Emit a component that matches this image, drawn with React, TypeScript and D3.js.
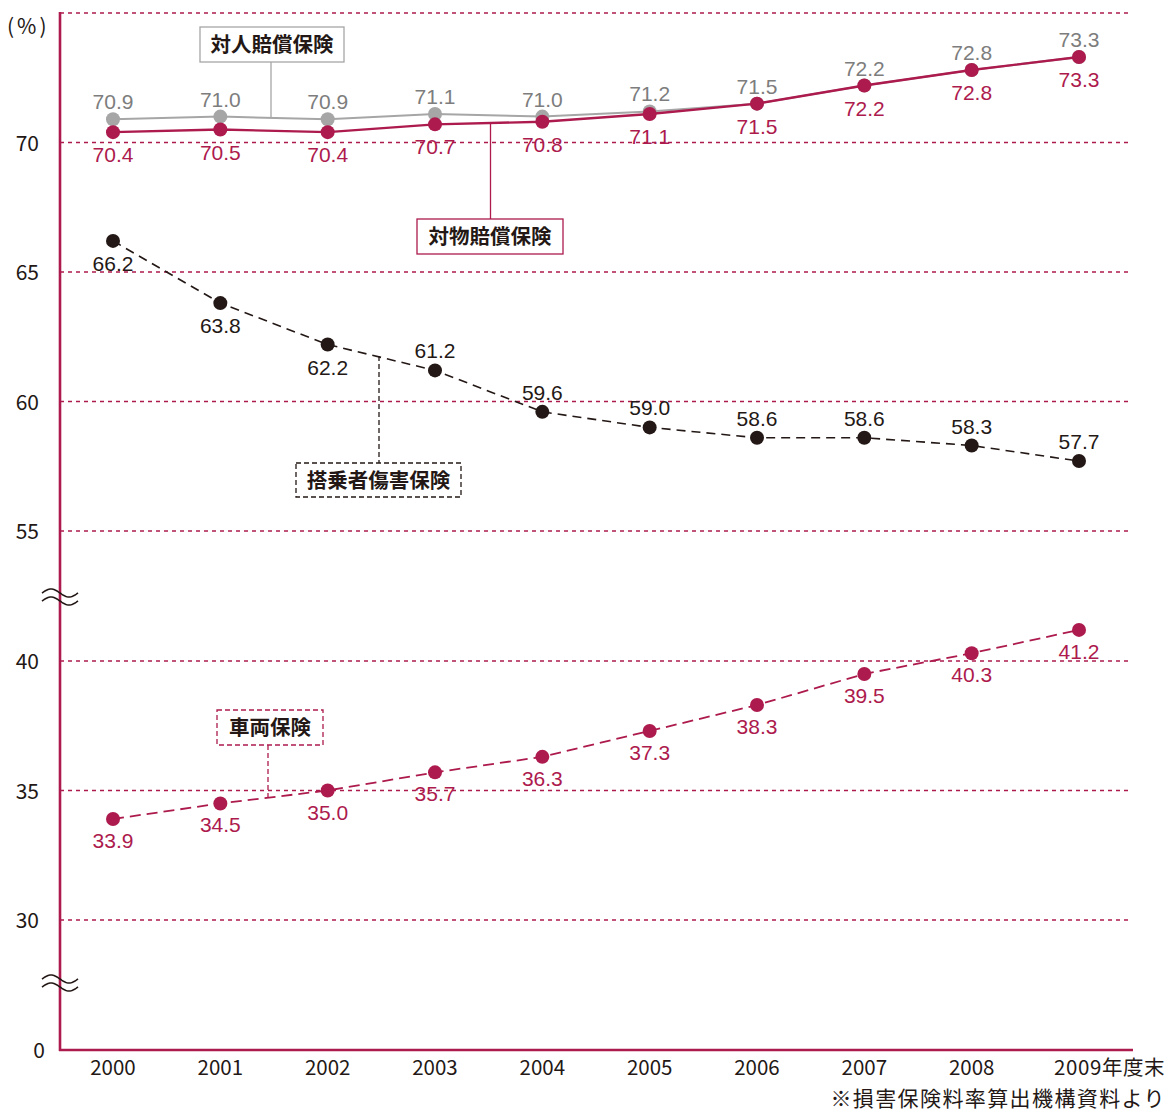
import React from "react";
import * as d3 from "d3";

const years = [2000, 2001, 2002, 2003, 2004, 2005, 2006, 2007, 2008, 2009];
const taijin = [70.9, 71.0, 70.9, 71.1, 71.0, 71.2, 71.5, 72.2, 72.8, 73.3];
const taibutsu = [70.4, 70.5, 70.4, 70.7, 70.8, 71.1, 71.5, 72.2, 72.8, 73.3];
const tojosha = [66.2, 63.8, 62.2, 61.2, 59.6, 59.0, 58.6, 58.6, 58.3, 57.7];
const tojoshaLabelBelow = [true, true, true, false, false, false, false, false, false, false];
const sharyo = [33.9, 34.5, 35.0, 35.7, 36.3, 37.3, 38.3, 39.5, 40.3, 41.2];
const yTicks = [0, 30, 35, 40, 55, 60, 65, 70];
const gridValues = [30, 35, 40, 55, 60, 65, 70, 75];

const CRIMSON = "#ad1a4d";
const GRAY_LINE = "#a6a6a6";
const GRAY_TEXT = "#7d7d7d";
const DARK = "#231815";
const NUM_FONT = "'Liberation Sans', Arial, sans-serif";
const JP_FONT = "'Noto Sans CJK JP', sans-serif";

const x = d3.scaleLinear().domain([2000, 2009]).range([113, 1079]);
// broken axis: three linear segments with the same unit height above 30
const yBase = d3.scaleLinear().domain([0, 30]).range([1050, 920]);
const yLow = d3.scaleLinear().domain([30, 40]).range([920, 661]);
const yHigh = d3.scaleLinear().domain([55, 75]).range([531, 13]);
const y = (v: number) => (v >= 50 ? yHigh(v) : v >= 30 ? yLow(v) : yBase(v));

function linePath(vals: number[]) {
  return d3
    .line<number>()
    .x((_, i) => x(years[i]))
    .y((v) => y(v))(vals) as string;
}

function Series({ vals, color, dash, width }: { vals: number[]; color: string; dash?: string; width: number }) {
  return (
    <g>
      <path d={linePath(vals)} fill="none" stroke={color} strokeWidth={width} strokeDasharray={dash} />
      {vals.map((v, i) => (
        <circle key={i} cx={x(years[i])} cy={y(v)} r={7} fill={color} />
      ))}
    </g>
  );
}

function BreakMark({ cy }: { cy: number }) {
  const wave = (off: number) => {
    const pts: [number, number][] = [];
    for (let t = 0; t <= 36; t += 1) {
      pts.push([42 + t, cy + off - 4 * Math.sin((t / 36) * 2 * Math.PI)]);
    }
    return d3.line()(pts) as string;
  };
  return (
    <g fill="none" stroke={DARK} strokeWidth={1.6}>
      <path d={wave(-4)} />
      <path d={wave(4)} />
    </g>
  );
}

const breakYs = [597, 983];

export default function App() {
  return (
    <svg width={1174} height={1112} style={{ position: "absolute", left: 0, top: 0, background: "#fff" }}>
      {/* grid */}
      {gridValues.map((g) => (
        <line key={g} x1={60} x2={1131} y1={y(g)} y2={y(g)} stroke={CRIMSON} strokeWidth={1.3} strokeDasharray="4,4" />
      ))}
      {/* axes */}
      <line x1={60} x2={60} y1={12} y2={1051} stroke={CRIMSON} strokeWidth={2.6} />
      <line x1={59} x2={1133} y1={1050} y2={1050} stroke={CRIMSON} strokeWidth={2.6} />
      {breakYs.map((b) => (
        <BreakMark key={b} cy={b} />
      ))}
      {/* y tick labels */}
      {yTicks.map((t) => (
        <text key={t} x={t === 0 ? 45 : 39} y={y(t) + 8} textAnchor="end" fontSize={21} fill={DARK} fontFamily={JP_FONT} fontWeight={400}>
          {t}
        </text>
      ))}
      <text x={7} y={34} fontSize={21} fill={DARK} fontFamily={JP_FONT} fontWeight={400} letterSpacing={3}>(%)</text>
      {/* x tick labels */}
      {years.map((yr, i) =>
        i < years.length - 1 ? (
          <text key={yr} x={x(yr)} y={1075} textAnchor="middle" fontSize={20.5} fill={DARK} fontFamily={JP_FONT} fontWeight={400}>
            {yr}
          </text>
        ) : (
          <text key={yr} x={x(yr) - 25} y={1075} textAnchor="start" fontSize={20.5} fill={DARK} fontFamily={JP_FONT} fontWeight={400} letterSpacing={0.6}>
            {yr}年度末
          </text>
        )
      )}
      <text x={1166} y={1105.6} textAnchor="end" fontSize={21} fill={DARK} fontFamily={JP_FONT} fontWeight={400} letterSpacing={1.4}>
        ※損害保険料率算出機構資料より
      </text>

      {/* callout leaders */}
      <line x1={271} x2={271} y1={62} y2={118} stroke={GRAY_LINE} strokeWidth={1.3} />
      <line x1={490.5} x2={490.5} y1={124} y2={219} stroke={CRIMSON} strokeWidth={1.3} />
      <line x1={379} x2={379} y1={356} y2={463} stroke={DARK} strokeWidth={1.3} strokeDasharray="5,3" />
      <line x1={268} x2={268} y1={745} y2={798} stroke={CRIMSON} strokeWidth={1.3} strokeDasharray="5,3" />

      {/* series */}
      <Series vals={taijin} color={GRAY_LINE} width={2} />
      <Series vals={taibutsu} color={CRIMSON} width={2.4} />
      <Series vals={tojosha} color={DARK} width={1.6} dash="9,6" />
      <Series vals={sharyo} color={CRIMSON} width={1.8} dash="11,6" />

      {/* value labels */}
      {taijin.map((v, i) => (
        <text key={"a" + i} x={x(years[i])} y={y(v) - 10} textAnchor="middle" fontSize={21} fill={GRAY_TEXT} fontFamily={NUM_FONT}>
          {v.toFixed(1)}
        </text>
      ))}
      {taibutsu.map((v, i) => (
        <text key={"b" + i} x={x(years[i])} y={y(v) + 30} textAnchor="middle" fontSize={21} fill={CRIMSON} fontFamily={NUM_FONT}>
          {v.toFixed(1)}
        </text>
      ))}
      {tojosha.map((v, i) => (
        <text key={"c" + i} x={x(years[i])} y={tojoshaLabelBelow[i] ? y(v) + 30 : y(v) - 12} textAnchor="middle" fontSize={21} fill={DARK} fontFamily={NUM_FONT}>
          {v.toFixed(1)}
        </text>
      ))}
      {sharyo.map((v, i) => (
        <text key={"d" + i} x={x(years[i])} y={y(v) + 29} textAnchor="middle" fontSize={21} fill={CRIMSON} fontFamily={NUM_FONT}>
          {v.toFixed(1)}
        </text>
      ))}

      {/* callout boxes */}
      <rect x={200} y={27} width={144} height={35} fill="#fff" stroke={GRAY_LINE} strokeWidth={1.3} />
      <text x={272} y={52} textAnchor="middle" fontSize={20.5} fontWeight={600} fill={DARK} fontFamily={JP_FONT}>対人賠償保険</text>
      <rect x={417} y={219} width={146} height={35} fill="#fff" stroke={CRIMSON} strokeWidth={1.3} />
      <text x={490} y={244} textAnchor="middle" fontSize={20.5} fontWeight={600} fill={DARK} fontFamily={JP_FONT}>対物賠償保険</text>
      <rect x={296} y={463} width={165} height={34} fill="#fff" stroke={DARK} strokeWidth={1.3} strokeDasharray="5,3" />
      <text x={378.5} y={488} textAnchor="middle" fontSize={20.5} fontWeight={600} fill={DARK} fontFamily={JP_FONT}>搭乗者傷害保険</text>
      <rect x={217} y={710} width={106} height={35} fill="#fff" stroke={CRIMSON} strokeWidth={1.3} strokeDasharray="5,3" />
      <text x={270} y={735} textAnchor="middle" fontSize={20.5} fontWeight={600} fill={DARK} fontFamily={JP_FONT}>車両保険</text>
    </svg>
  );
}
